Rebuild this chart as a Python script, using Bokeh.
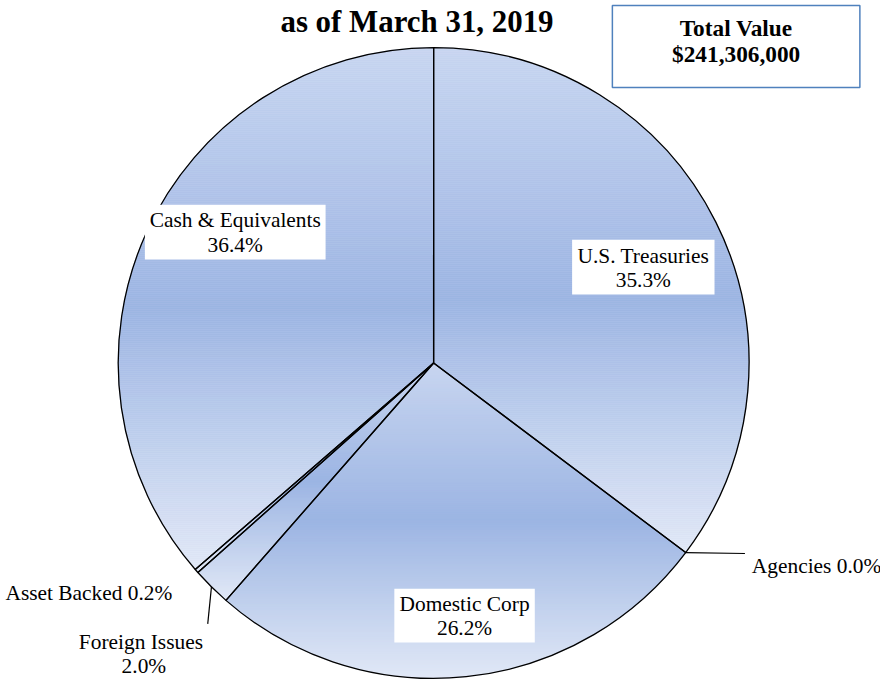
import math
from bokeh.plotting import figure
from bokeh.models import Range1d
from bokeh.embed import file_html
from bokeh.resources import INLINE
from bokeh.core.properties import value

# ---------------- data ----------------
categories = ["U.S. Treasuries", "Agencies", "Domestic Corp",
              "Foreign Issues", "Asset Backed", "Cash & Equivalents"]
percents = [35.3, 0.0, 26.2, 2.0, 0.2, 36.4]
pct_labels = ["35.3%", "0.0%", "26.2%", "2.0%", "0.2%", "36.4%"]
title_text = "as of  March 31, 2019"
total_title = "Total Value"
total_value = "$241,306,000"

# ---------------- layout helpers ----------------
W, H = 880, 680
SX, SY = W / 896.0, H / 696.0
SS = (SX + SY) / 2


def X(rx):
    return rx * SX


def Y(ry):
    return H - ry * SY


CX, CY, R = X(441), Y(371), 322 * SS
SERIF = value("Liberation Serif")
LBL = value("%.1fpx" % (21.8 * SS))
BOLD = value("%.1fpx" % (23.8 * SS))
TITLE = value("%.1fpx" % (31.5 * SS))

p = figure(width=W, height=H, x_range=Range1d(0, W), y_range=Range1d(0, H),
           output_backend="svg", toolbar_location=None, min_border=0)
p.axis.visible = False
p.grid.visible = False
p.outline_line_color = None
p.background_fill_color = "white"
p.border_fill_color = "white"

# slice angles (clockwise from 12 o'clock)
total = sum(percents)
starts, ends = [], []
acc = 0.0
for v in percents:
    a0 = acc / total * 2 * math.pi
    acc += v
    a1 = acc / total * 2 * math.pi
    starts.append(a0)
    ends.append(a1)


def pt(a, r):
    return (CX + r * math.sin(a), CY + r * math.cos(a))


def clip_half(pts, yc, above):
    out = []
    n = len(pts)
    for i in range(n):
        P = pts[i]
        Q = pts[(i + 1) % n]
        inP = P[1] >= yc if above else P[1] <= yc
        inQ = Q[1] >= yc if above else Q[1] <= yc
        if inP:
            out.append(P)
        if inP != inQ:
            t = (yc - P[1]) / (Q[1] - P[1])
            out.append((P[0] + t * (Q[0] - P[0]), yc))
    return out


stops = [(0.0, (200, 213, 240)), (0.5, (156, 181, 227)), (1.0, (225, 232, 246))]


def grad(t):
    t = min(max(t, 0.0), 1.0)
    for (t0, c0), (t1, c1) in zip(stops[:-1], stops[1:]):
        if t <= t1:
            f = (t - t0) / (t1 - t0)
            c = [round(c0[k] + f * (c1[k] - c0[k])) for k in range(3)]
            return "#%02x%02x%02x" % tuple(c)
    return "#%02x%02x%02x" % stops[-1][1]


xs, ys, cols = [], [], []
STEP = 2.0
for a0, a1, v in zip(starts, ends, percents):
    if v <= 0:
        continue
    n = max(3, int(math.degrees(a1 - a0) * 2))
    poly = [(CX, CY)] + [pt(a0 + (a1 - a0) * i / n, R) for i in range(n + 1)]
    ytop = max(q[1] for q in poly)
    ybot = min(q[1] for q in poly)
    yb = ytop
    while yb > ybot:
        ylo = max(yb - STEP, ybot)
        piece = clip_half(clip_half(poly, yb, False), ylo, True)
        if len(piece) >= 3:
            xs.append([q[0] for q in piece])
            ys.append([q[1] for q in piece])
            cols.append(grad((ytop - (yb + ylo) / 2) / (ytop - ybot)))
        yb = ylo

p.patches(xs, ys, fill_color=cols, line_color=cols, line_width=0.6)

# slice outlines
for a0, a1, v in zip(starts, ends, percents):
    if v <= 0:
        continue
    p.wedge(x=CX, y=CY, radius=R, start_angle=math.pi / 2 - a1,
            end_angle=math.pi / 2 - a0, fill_alpha=0,
            line_color="black", line_width=1.3)

# leader lines
ag = categories.index("Agencies")
fi = categories.index("Foreign Issues")
ab = categories.index("Asset Backed")
e_ag = pt(ends[ag], R)
e_fi = pt((starts[fi] + ends[fi]) / 2, R)
p.segment(x0=[e_ag[0], e_fi[0]], y0=[e_ag[1], e_fi[1]],
          x1=[X(758), X(211)], y1=[Y(566), Y(638)],
          line_color="black", line_width=1.2)

# inside labels with white boxes
inside = {
    "U.S. Treasuries": (582, 727, 245, 301),
    "Cash & Equivalents": (147, 331, 209, 265),
    "Domestic Corp": (401, 544, 602, 657),
}
for name, (l, r, t, b) in inside.items():
    i = categories.index(name)
    p.quad(left=X(l), right=X(r), top=Y(t), bottom=Y(b),
           fill_color="white", line_color=None)
    cx = X((l + r) / 2)
    ym = (t + b) / 2
    p.text(x=[cx, cx], y=[Y(ym - 12), Y(ym + 13)],
           text=[categories[i], pct_labels[i]],
           text_font=SERIF, text_font_size=LBL,
           text_align="center", text_baseline="middle", text_color="black")

# outside labels
p.text(x=[X(765)], y=[Y(579)], text=["Agencies " + pct_labels[ag]],
       text_font=SERIF, text_font_size=LBL,
       text_align="left", text_baseline="middle", text_color="black")
p.text(x=[X(175)], y=[Y(606)], text=["Asset Backed " + pct_labels[ab]],
       text_font=SERIF, text_font_size=LBL,
       text_align="right", text_baseline="middle", text_color="black")
p.text(x=[X(143), X(146)], y=[Y(657), Y(681)],
       text=[categories[fi], pct_labels[fi]],
       text_font=SERIF, text_font_size=LBL,
       text_align="center", text_baseline="middle", text_color="black")

# title, kept fully inside the picture at its top edge
p.text(x=[X(428)], y=[H - 21], text=[title_text],
       text_font=SERIF, text_font_size=TITLE, text_font_style="bold",
       text_align="center", text_baseline="middle", text_color="black")

# total value box
p.quad(left=X(623), right=X(875), top=Y(5), bottom=Y(89),
       fill_color="white", line_color="#4f81bd", line_width=1.5)
p.text(x=[X(749), X(749)], y=[Y(28), Y(55)], text=[total_title, total_value],
       text_font=SERIF, text_font_size=BOLD, text_font_style="bold",
       text_align="center", text_baseline="middle", text_color="black")

open("out.html", "w").write(file_html(p, INLINE))
